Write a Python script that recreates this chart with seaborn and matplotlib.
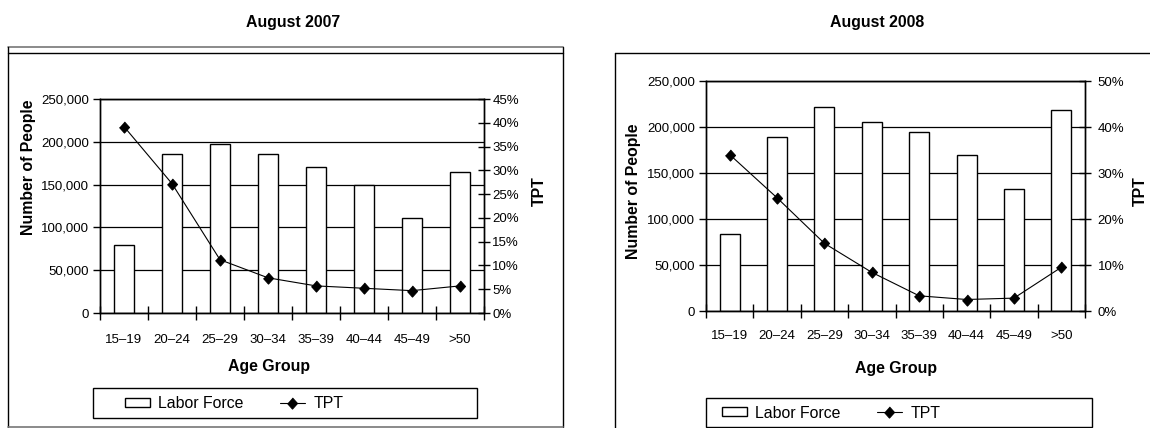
import numpy as np
import pandas as pd
import matplotlib
matplotlib.use("Agg")
import matplotlib.pyplot as plt
from matplotlib.patches import Rectangle, Patch
from matplotlib.lines import Line2D
from matplotlib.ticker import FuncFormatter, MultipleLocator, FixedLocator
import seaborn as sns

# ---- data -------------------------------------------------------------
age_groups = ["15–19", "20–24", "25–29", "30–34", "35–39", "40–44", "45–49", ">50"]

labor_force_2007 = [79000, 186000, 197000, 186000, 171000, 150000, 111000, 165000]
tpt_2007 = [39.2, 27.2, 11.2, 7.4, 5.7, 5.2, 4.7, 5.7]

labor_force_2008 = [84000, 189000, 222000, 205000, 195000, 170000, 133000, 219000]
tpt_2008 = [34.0, 24.6, 14.7, 8.4, 3.3, 2.5, 2.8, 9.5]

# ---- style ------------------------------------------------------------
sns.set_style("white")
plt.rcParams["font.family"] = ["Liberation Sans", "DejaVu Sans"]
plt.rcParams["text.color"] = "black"
plt.rcParams["axes.labelcolor"] = "black"
plt.rcParams["xtick.color"] = "black"
plt.rcParams["ytick.color"] = "black"

W, H = 1150, 428
fig = plt.figure(figsize=(W / 100, H / 100), dpi=100)

TICK_FS = 9.5
LABEL_FS = 11.4
MARKER_SIZE = 8
diamond = [(0, 1), (0.9, 0), (0, -1), (-0.9, 0)]


def fx(x):
    return x / W


def fy(y):
    return 1 - y / H


def px_axes(x0, y0, x1, y1):
    return fig.add_axes([fx(x0), fy(y1), (x1 - x0) / W, (y1 - y0) / H])


def fig_line(xs, ys, color="black", lw=1.0):
    fig.add_artist(Line2D([fx(x) for x in xs], [fy(y) for y in ys],
                          transform=fig.transFigure, color=color, lw=lw))


def draw_panel(box, lf, tpt, tpt_max, tpt_step, title, title_x,
               ylab_xy, tpt_lab_xy, xlab_xy, xtick_pad, right_pad,
               legend_rect, legend_start, legend_y):
    df = pd.DataFrame({"age": age_groups, "labor": lf, "tpt": tpt})

    ax = px_axes(*box)
    ax.set_axisbelow(True)
    sns.barplot(data=df, x="age", y="labor", ax=ax, width=0.42,
                color="white", saturation=1, edgecolor="black", linewidth=1,
                errorbar=None)
    ax.set_ylim(0, 250000)
    ax.set_xlim(-0.5, len(age_groups) - 0.5)
    ax.yaxis.set_major_locator(MultipleLocator(50000))
    ax.yaxis.set_major_formatter(FuncFormatter(lambda v, p: f"{int(v):,}"))
    ax.yaxis.grid(True, color="black", lw=0.9)
    ax.xaxis.grid(False)

    ax2 = ax.twinx()
    sns.pointplot(data=df, x="age", y="tpt", ax=ax2, color="black",
                  marker=diamond, markersize=MARKER_SIZE, markeredgewidth=0.8,
                  linewidth=0.8, errorbar=None)
    ax2.set_ylim(0, tpt_max)
    ax2.set_xlim(-0.5, len(age_groups) - 0.5)
    ax2.yaxis.set_major_locator(MultipleLocator(tpt_step))
    ax2.yaxis.set_major_formatter(FuncFormatter(lambda v, p: f"{v:.0f}%"))
    ax2.grid(False)

    # category labels centred, tick marks on category boundaries
    ax.set_xticks(range(len(age_groups)))
    ax.set_xticklabels(age_groups)
    ax.xaxis.set_minor_locator(FixedLocator(np.arange(-0.5, len(age_groups), 1.0)))
    ax.tick_params(axis="x", which="major", length=0, pad=xtick_pad,
                   labelsize=TICK_FS, bottom=True)
    ax.tick_params(axis="x", which="minor", length=10, width=1,
                   direction="inout", bottom=True, color="black")
    ax.tick_params(axis="y", length=5, width=1, direction="out", left=True,
                   labelsize=TICK_FS, pad=3)
    ax2.tick_params(axis="y", length=8, width=1, direction="inout", right=True,
                    labelsize=TICK_FS, pad=right_pad)
    ax2.tick_params(axis="x", which="both", length=0)

    for a in (ax, ax2):
        for s in a.spines.values():
            s.set_color("black")
            s.set_linewidth(1)
            s.set_visible(True)

    ax.set_xlabel("Age Group", fontsize=LABEL_FS, fontweight="bold")
    ax.xaxis.set_label_coords(*xlab_xy)
    ax.xaxis.label.set_va("center")
    ax.set_ylabel("Number of People", fontsize=LABEL_FS, fontweight="bold")
    ax.yaxis.set_label_coords(*ylab_xy)
    ax.yaxis.label.set_va("center")
    ax2.set_ylabel("TPT", fontsize=LABEL_FS, fontweight="bold")
    ax2.yaxis.set_label_coords(*tpt_lab_xy)
    ax2.yaxis.label.set_va("center")

    fig.text(fx(title_x), fy(22), title, ha="center", va="center",
             fontsize=LABEL_FS, fontweight="bold")

    # legend box and entries
    lx0, ly0, lx1, ly1 = legend_rect
    fig.add_artist(Rectangle((fx(lx0), fy(ly1)), (lx1 - lx0) / W, (ly1 - ly0) / H,
                             transform=fig.transFigure, facecolor="white",
                             edgecolor="black", lw=1, zorder=0))
    handles = [Patch(facecolor="white", edgecolor="black", lw=1),
               Line2D([], [], color="black", lw=0.8, marker=diamond,
                      markersize=MARKER_SIZE, markeredgewidth=0.8)]
    fig.legend(handles, ["Labor Force", "TPT"], loc="center left",
               bbox_to_anchor=(fx(legend_start), fy(legend_y)),
               bbox_transform=fig.transFigure, ncol=2, frameon=False,
               fontsize=LABEL_FS, handlelength=1.55, handleheight=0.5,
               handletextpad=0.55, columnspacing=2.3, borderpad=0,
               borderaxespad=0)
    return ax, ax2


# left panel: August 2007
box_l = (100, 99, 484, 313)
draw_panel(box_l, labor_force_2007, tpt_2007, 45, 5, "August 2007", 293,
           ylab_xy=((28.5 - 100) / 384, (313 - 167.5) / 214),
           tpt_lab_xy=((539 - 100) / 384, (313 - 191.5) / 214),
           xlab_xy=((269 - 100) / 384, (313 - 367) / 214),
           xtick_pad=15, right_pad=2,
           legend_rect=(93, 388, 477, 418), legend_start=125, legend_y=403.5)

# right panel: August 2008
box_r = (706, 81, 1085, 311)
draw_panel(box_r, labor_force_2008, tpt_2008, 50, 10, "August 2008", 877,
           ylab_xy=((633.5 - 706) / 379, (311 - 191.5) / 230),
           tpt_lab_xy=((1140 - 706) / 379, (311 - 191) / 230),
           xlab_xy=((896 - 706) / 379, (311 - 368) / 230),
           xtick_pad=14, right_pad=5,
           legend_rect=(706, 398, 1092, 427), legend_start=722, legend_y=413)

# panel frames
fig_line([8, 563], [47, 47], color="#777777", lw=1.2)
fig_line([8, 563], [53, 53])
fig_line([8, 8], [47, 427])
fig_line([563, 563], [47, 427])
fig_line([8, 563], [427, 427], color="#777777", lw=1.2)
fig_line([615, 1150], [53, 53])
fig_line([615, 615], [53, 428])

fig.savefig("out.png", dpi=100)
